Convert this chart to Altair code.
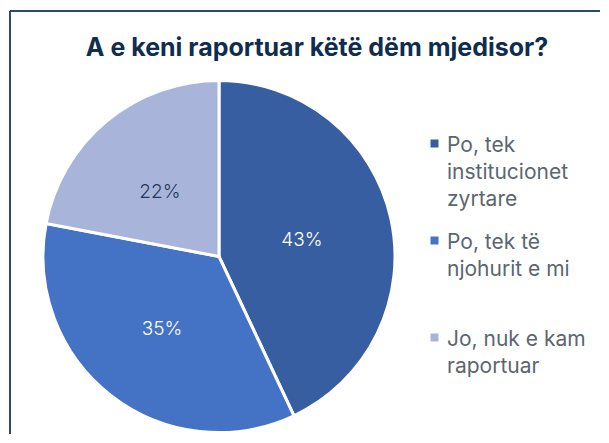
import altair as alt
import pandas as pd

categories = ["Po, tek institucionet zyrtare", "Po, tek të njohurit e mi", "Jo, nuk e kam raportuar"]
label_lines = ["Po, tek|institucionet|zyrtare", "Po, tek të|njohurit e mi", "Jo, nuk e kam|raportuar"]
values = [43, 35, 22]
colors = ["#375EA1", "#4472C4", "#A9B4DA"]
text_colors = ["#FFFFFF", "#FFFFFF", "#1F3A5F"]

df = pd.DataFrame({
    "cat": categories,
    "lines": label_lines,
    "val": values,
    "order": list(range(len(values))),
    "pct": [f"{v}%" for v in values],
    "tcolor": text_colors,
})

W, H = 590, 423
CX, CY, R = 209, 245.5, 176

color_scale = alt.Scale(domain=categories, range=colors)
expr_map = "{" + ",".join(f"'{c}':'{l}'" for c, l in zip(categories, label_lines)) + "}"

base = alt.Chart(df).encode(
    theta=alt.Theta("val:Q", stack=True),
    order=alt.Order("order:Q"),
)

arcs = base.mark_arc(radius=R, stroke="white", strokeWidth=3).encode(
    x=alt.value(CX),
    y=alt.value(CY),
    color=alt.Color(
        "cat:N",
        scale=color_scale,
        sort=categories,
        legend=alt.Legend(
            title=None,
            orient="none",
            legendX=414,
            legendY=122,
            symbolType="square",
            symbolSize=64,
            symbolStrokeWidth=0,
            labelFontSize=21,
            labelColor="#5B6670",
            labelFont="Inter",
            labelLimit=220,
            labelBaseline="top",
            labelOffset=2,
            gridAlign="all",
            rowPadding=20,
            labelExpr="split(" + expr_map + "[datum.label], '|')",
        ),
    ),
)

labels = base.mark_text(radius=88, fontSize=19, font="Inter", fontWeight=300, dx=-3, dy=3).encode(
    x=alt.value(CX),
    y=alt.value(CY),
    text="pct:N",
    color=alt.Color("tcolor:N", scale=None),
)

rules_top = alt.Chart(df).mark_rule(color="#2E4A6B", strokeWidth=2).encode(
    x=alt.value(0), x2=alt.value(W), y=alt.value(0)
)
rules_left = alt.Chart(df).mark_rule(color="#2E4A6B", strokeWidth=2).encode(
    x=alt.value(0), y=alt.value(0), y2=alt.value(H)
)

chart = alt.layer(arcs, labels, rules_top, rules_left).properties(
    width=W,
    height=H,
    padding={"left": 1, "top": 2, "right": 0, "bottom": 0},
    title=alt.TitleParams(
        "A e keni raportuar këtë dëm mjedisor?",
        fontSize=25,
        fontWeight="bold",
        font="Inter",
        color="#0F2D50",
        anchor="middle",
        frame="group",
        orient="top",
        offset=-71,
        dx=12,
        baseline="alphabetic",
    ),
).configure(
    style={"guide-label": {"lineHeight": 27, "dy": -9}}
).configure_view(stroke=None)

chart.save("out.html", embed_options={"renderer": "svg", "actions": False})
